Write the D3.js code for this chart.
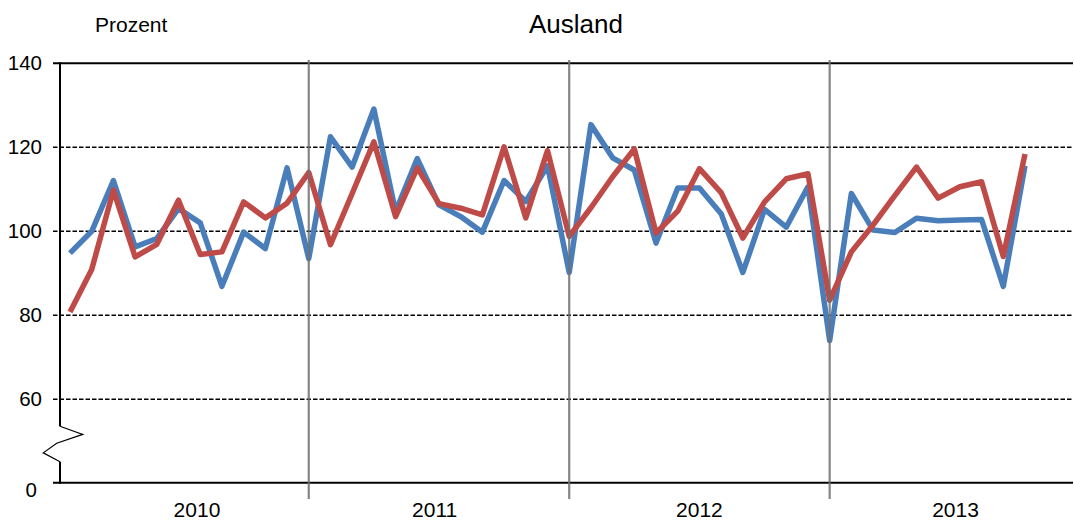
<!DOCTYPE html>
<html lang="de">
<head>
<meta charset="UTF-8">
<title>Ausland</title>
<style>
    body { margin: 0; background: #fff; }
    svg { display: block; font-family: "Liberation Sans", Arial, sans-serif; }
</style>
</head>
<body>
<div id="chart"></div>
<script src="https://cdn.jsdelivr.net/npm/d3@7"></script>
<script>

    // monthly values, Jan 2010 .. Sep 2013
    var seriesBlue = [94.8, 100, 112.1, 96.3, 98.3, 105.4, 102, 86.9, 99.8, 95.9, 115.1, 93.5,
        122.5, 115.3, 129.1, 104.7, 117.3, 106.3, 103.5, 99.8, 112.1, 107.1, 115.6, 90.2,
        125.4, 117.5, 114.6, 97.2, 110.3, 110.3, 104.2, 90.2, 105.2, 101, 110.6, 74,
        109, 100.3, 99.7, 103.1, 102.5, 102.7, 102.8, 86.9, 115.6];
    var seriesRed = [80.8, 90.9, 109.8, 93.9, 96.9, 107.4, 94.5, 95.1, 107, 103.2, 106.7, 114,
        96.8, 109, 121.3, 103.5, 115.1, 106.6, 105.5, 103.9, 120.1, 103.2, 119.2, 98.8,
        105.6, 113, 119.6, 99.6, 104.8, 114.9, 109.2, 98.4, 107, 112.5, 113.7, 83.6,
        95.1, 101.5, 108.5, 115.3, 107.9, 110.6, 111.8, 94, 118.4];

    var years = ["2010", "2011", "2012", "2013"];
    var yearLabelAt = [5.85, 16.8, 29, 40.8];   // position in month index units
    var yearDividers = [11, 23, 35];
    var yTicks = [0, 60, 80, 100, 120, 140];

    var width = 1074,
        height = 523;

    var svg = d3.select("#chart").append("svg")
        .attr("width", width)
        .attr("height", height);

    var x = d3.scaleLinear()
        .domain([0, seriesBlue.length - 1])
        .range([70, 1025]);

    // broken axis: 0..60 squeezed, 60..140 linear
    var y = d3.scaleLinear()
        .domain([0, 60, 140])
        .range([482.7, 399.3, 63.3]);

    var axisX = 60, rightX = 1073;

    // dashed grid
    svg.append("g")
        .selectAll("line")
        .data([60, 80, 100, 120])
        .enter().append("line")
        .attr("x1", 53).attr("x2", rightX)
        .attr("y1", function (d) { return y(d); })
        .attr("y2", function (d) { return y(d); })
        .attr("stroke", "#000")
        .attr("stroke-width", 1.6)
        .attr("stroke-dasharray", "4.5,2");

    // top and bottom solid lines
    svg.append("g")
        .selectAll("line")
        .data([0, 140])
        .enter().append("line")
        .attr("x1", 53).attr("x2", rightX)
        .attr("y1", function (d) { return y(d); })
        .attr("y2", function (d) { return y(d); })
        .attr("stroke", "#000")
        .attr("stroke-width", 2);

    var line = d3.line()
        .x(function (d, i) { return x(i); })
        .y(function (d) { return y(d); });

    svg.append("path")
        .datum(seriesBlue)
        .attr("fill", "none")
        .attr("stroke", "#4a7ebb")
        .attr("stroke-width", 5.5)
        .attr("stroke-linejoin", "round")
        .attr("d", line);

    svg.append("path")
        .datum(seriesRed)
        .attr("fill", "none")
        .attr("stroke", "#be4b48")
        .attr("stroke-width", 5.5)
        .attr("stroke-linejoin", "round")
        .attr("d", line);

    // year dividers
    svg.append("g")
        .selectAll("line")
        .data(yearDividers)
        .enter().append("line")
        .attr("x1", function (d) { return x(d); })
        .attr("x2", function (d) { return x(d); })
        .attr("y1", 60).attr("y2", 499)
        .attr("stroke", "#707070")
        .attr("stroke-opacity", 0.85)
        .attr("stroke-width", 2.2);

    // y axis line with break
    var breakTop = y(60) + 27, breakBottom = y(0) - 21;
    svg.append("line")
        .attr("x1", axisX).attr("x2", axisX)
        .attr("y1", y(140) - 1).attr("y2", breakTop)
        .attr("stroke", "#000").attr("stroke-width", 2);
    svg.append("line")
        .attr("x1", axisX).attr("x2", axisX)
        .attr("y1", breakBottom).attr("y2", y(0) + 1)
        .attr("stroke", "#000").attr("stroke-width", 2);
    var h = breakBottom - breakTop;
    svg.append("path")
        .attr("d", d3.line()([
            [axisX, breakTop],
            [axisX + 22.7, breakTop + h * 0.23],
            [axisX - 3.3, breakTop + h * 0.48],
            [axisX - 16.7, breakTop + h * 0.75],
            [axisX, breakBottom]
        ]))
        .attr("fill", "none")
        .attr("stroke", "#000")
        .attr("stroke-width", 1.2);

    // y tick labels
    var yAxis = svg.append("g")
        .attr("transform", "translate(" + axisX + ",0)")
        .call(d3.axisLeft(y).tickValues(yTicks).tickSize(0).tickPadding(18));
    yAxis.select(".domain").remove();
    yAxis.selectAll("text")
        .attr("font-family", "Liberation Sans, Arial, sans-serif")
        .attr("font-size", "20.5px")
        .attr("fill", "#000");
    yAxis.selectAll(".tick")
        .filter(function (d) { return d === 0; })
        .select("text")
        .attr("x", -23)
        .attr("dy", "0.67em");

    // year labels
    svg.append("g")
        .selectAll("text")
        .data(years)
        .enter().append("text")
        .attr("x", function (d, i) { return x(yearLabelAt[i]); })
        .attr("y", 517)
        .attr("text-anchor", "middle")
        .attr("font-size", "21px")
        .attr("fill", "#000")
        .text(function (d) { return d; });

    svg.append("text")
        .attr("x", 576)
        .attr("y", 33)
        .attr("text-anchor", "middle")
        .attr("font-size", "26px")
        .attr("fill", "#000")
        .text("Ausland");

    svg.append("text")
        .attr("x", 95)
        .attr("y", 32)
        .attr("font-size", "21px")
        .attr("fill", "#000")
        .text("Prozent");

</script>
</body>
</html>
